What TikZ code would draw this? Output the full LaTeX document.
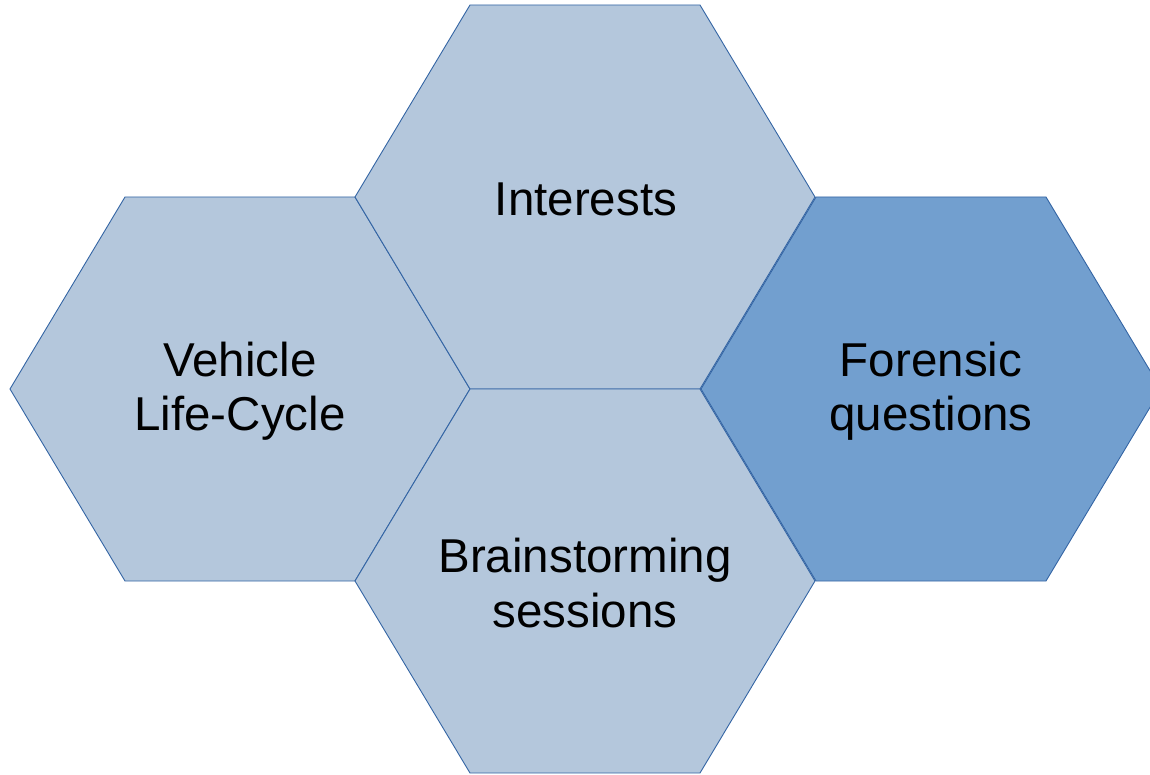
\documentclass[tikz,border=0pt]{standalone}
\usepackage{fontspec}
\setmainfont{Liberation Sans}
\definecolor{cellLight}{HTML}{B4C7DC}
\definecolor{cellDark}{HTML}{729FCF}
\definecolor{cellLine}{HTML}{3465A4}
\tikzset{
  hexcell/.style={draw=cellLine, line width=0.9pt, line join=miter},
  lightcell/.style={hexcell, fill=cellLight},
  darkcell/.style={hexcell, fill=cellDark},
  celltext/.style={align=center, font=\fontsize{47.5}{54.5}\selectfont, text=black, inner sep=0pt}
}
\newcommand{\hexshape}{(-230,0) -- (-115,-192) -- (115,-192) -- (230,0) -- (115,192) -- (-115,192) -- cycle}
\begin{document}
\begin{tikzpicture}[x=1pt,y=-1pt]
\useasboundingbox (0,0) rectangle (1150,775);
\clip (0,0) rectangle (1150,775);
\draw[lightcell, shift={(240,389)}] \hexshape;
\draw[lightcell, shift={(585,197)}] \hexshape;
\draw[lightcell, shift={(585,581)}] \hexshape;
\draw[darkcell, shift={(931,389)}] \hexshape;
\node[celltext] (vehicle) at (240,391) {Vehicle\\Life-Cycle};
\node[celltext] (interests) at (586,199) {Interests};
\node[celltext] (brainstorm) at (585,583) {Brainstorming\\sessions};
\node[celltext] (forensic) at (931,391) {Forensic\\questions};
\end{tikzpicture}
\end{document}
